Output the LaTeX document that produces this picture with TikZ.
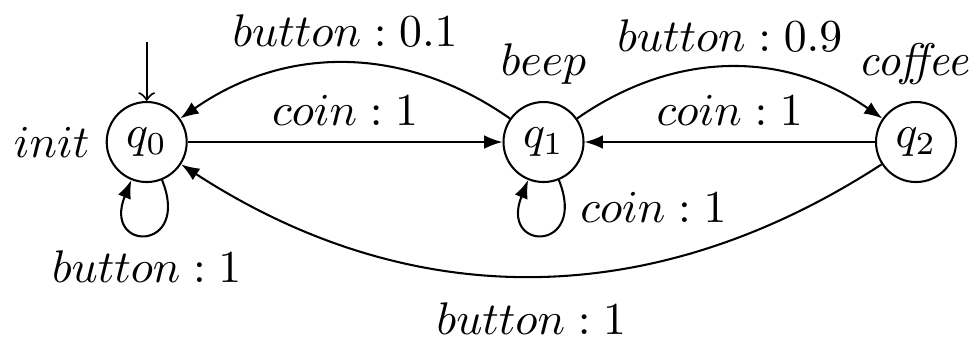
\documentclass[tikz,border=0pt]{standalone}
\usetikzlibrary{arrows.meta}
\begin{document}
\begin{tikzpicture}[x=0.2187pt,y=0.2187pt,
  state/.style={draw,circle,minimum size=17.5pt,inner sep=0pt},
  trans/.style={-{Latex[length=4pt,width=3pt]}},
  selfloop/.style={out=-68,in=-112,looseness=6.5},
  line width=0.45pt]
\useasboundingbox (0,0) rectangle (978,-338);
\node[state] (q0) at (146.7,-142) {$q_0$};
\node[state] (q1) at (543.5,-142) {$q_1$};
\node[state] (q2) at (916,-142) {$q_2$};
\node[anchor=east] (l0) at (q0.west) {$init$};
\node[anchor=south] (l1) at (q1.north) {$beep$};
\node[anchor=south,xshift=-0.6pt] (l2) at (q2.north) {\itshape coffee};
\coordinate (start) at (146.7,-42);
\draw[-to] (start) -- (q0);
\draw[trans] (q0) -- node[above] (e01) {$coin:1$} (q1);
\draw[trans] (q2) -- node[above] (e21) {$coin:1$} (q1);
\draw[trans] (q1) to[bend right=35] node[above] (e10) {$button:0.1$} (q0);
\draw[trans] (q1) to[bend left=35] node[above] (e12) {$button:0.9$} (q2);
\draw[trans] (q2) to[bend left=33] node[below=2.3pt] (e20) {$button:1$} (q0);
\draw[trans] (q0) to[selfloop] node[below] (e00) {$button:1$} (q0);
\draw[trans] (q1) to[selfloop] node[pos=0.2,anchor=west,yshift=1.5pt] (e11) {$coin:1$} (q1);
\end{tikzpicture}
\end{document}
